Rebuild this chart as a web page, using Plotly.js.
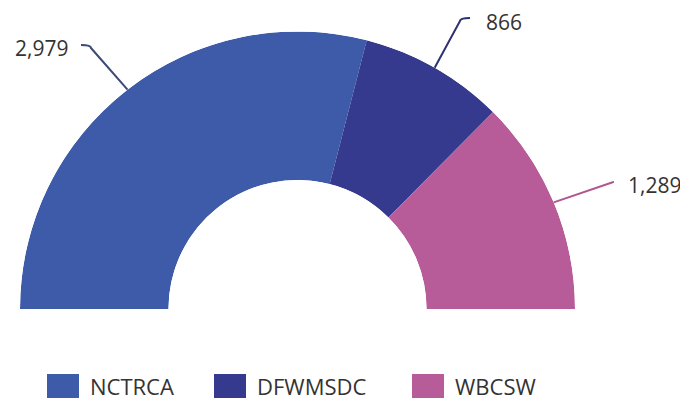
<!DOCTYPE html>
<html><head><meta charset="utf-8">
<script src="https://cdn.plot.ly/plotly-3.0.1.min.js"></script>
<style>html,body{margin:0;padding:0;background:#fff}#chart{width:680px;height:401px}</style>
</head><body><div id="chart"></div>
<script>
// ---- data ----
const categories = ["NCTRCA", "DFWMSDC", "WBCSW"];
const values = [2979, 866, 1289];
const colors = ["#3d5ba9", "#353a8e", "#b75c98"];
const lineColors = ["#3b4a78", "#2e3270", "#b0578f"];

// ---- layout helpers (pixel -> paper) ----
const W = 680, H = 401;
const cx = 297.5, cy = 309, R = 277.5, holeFrac = 0.465;
const px = x => x / W, py = y => 1 - y / H;

const total = values.reduce((a, b) => a + b, 0);
let cum = 0;
const mids = [];
const traces = categories.map((c, i) => {
  const span = values[i] / total * 180;
  const mid = cum + span / 2; cum += span; mids.push(mid);
  return {
    type: 'barpolar', name: c, r: [1], theta: [mid], width: [span],
    marker: {color: colors[i], line: {width: 0}},
    text: [values[i].toLocaleString('en-US')], hoverinfo: 'name+text', showlegend: false
  };
});

// point on outer arc at data angle (degrees from the left, clockwise)
function arcPt(a) {
  const t = (180 - a) * Math.PI / 180;
  return [cx + R * Math.cos(t), cy - R * Math.sin(t)];
}

// label placement (layout only)
const labelPos = [
  {x: 70, y: 48, anchor: 'right', start: [81, 45], elbow: [91, 48]},
  {x: 484, y: 22, anchor: 'left', start: [470, 18], elbow: [460, 21]},
  {x: 626, y: 185, anchor: 'left', start: [614, 182], elbow: [612, 182.5]}
];

const shapes = [];
const annotations = [];
values.forEach((v, i) => {
  const L = labelPos[i];
  const e = arcPt(mids[i]);
  const path = `M ${px(L.start[0])},${py(L.start[1])} Q ${px(L.elbow[0])},${py(L.start[1])} ${px(L.elbow[0])},${py(L.elbow[1])} L ${px(e[0])},${py(e[1])}`;
  shapes.push({type: 'path', xref: 'paper', yref: 'paper', path: path, line: {color: lineColors[i], width: 2}});
  annotations.push({
    xref: 'paper', yref: 'paper', x: px(L.x), y: py(L.y), xanchor: L.anchor, yanchor: 'middle',
    text: v.toLocaleString('en-US'), showarrow: false,
    font: {family: 'Open Sans, sans-serif', size: 21, color: '#333333'}
  });
});

// legend (manual, built from categories/colors)
const legendX = [47, 214, 412];
categories.forEach((c, i) => {
  shapes.push({type: 'rect', xref: 'paper', yref: 'paper',
    x0: px(legendX[i]), x1: px(legendX[i] + 32), y0: py(398), y1: py(374),
    fillcolor: colors[i], line: {width: 0}});
  annotations.push({xref: 'paper', yref: 'paper', x: px(legendX[i] + 41), y: py(386),
    xanchor: 'left', yanchor: 'middle', text: c, showarrow: false,
    font: {family: 'Open Sans, sans-serif', size: 22, color: '#333333'}});
});

const layout = {
  width: W, height: H,
  margin: {l: 0, r: 0, t: 0, b: 0},
  paper_bgcolor: '#ffffff',
  showlegend: false,
  polar: {
    domain: {x: [px(cx - R), px(cx + R)], y: [py(cy), py(cy - R)]},
    sector: [0, 180],
    hole: holeFrac,
    bargap: 0,
    bgcolor: 'rgba(0,0,0,0)',
    radialaxis: {visible: false, range: [0, 1]},
    angularaxis: {visible: false, direction: 'clockwise', rotation: 180}
  },
  shapes: shapes,
  annotations: annotations
};

Plotly.newPlot('chart', traces, layout, {displayModeBar: false, staticPlot: true});
</script>
</body></html>
